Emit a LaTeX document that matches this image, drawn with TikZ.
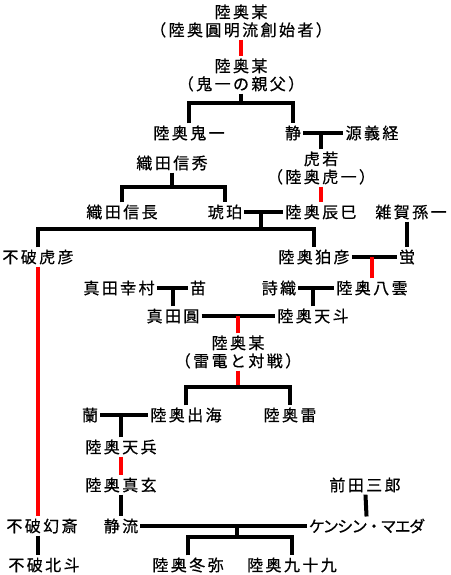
\documentclass[tikz,border=0pt]{standalone}
\usepackage{fontspec}
\newfontfamily\jp[LetterSpace=15,FakeBold=0.6]{Noto Sans CJK JP}
\newfontfamily\jpkana[LetterSpace=-10,FakeBold=0.6]{Noto Sans CJK JP}
\usetikzlibrary{calc}
\begin{document}
\begin{tikzpicture}[x=1pt,y=-1pt,
  person/.style={inner sep=2pt, align=center, font=\fontsize{16}{18}\jp},
  kin/.style={line width=4pt, black},
  blood/.style={line width=4pt, red}]
\useasboundingbox (0,0) rectangle (450,575);
\node[person] (founder) at (241,21) {陸奥某\\（陸奥圓明流創始者）};
\node[person] (oyaji) at (241,75) {陸奥某\\（鬼一の親父）};
\node[person] (kiichi) at (189,133) {陸奥鬼一};
\node[person] (shizuka) at (293,133) {静};
\node[person] (yoshitsune) at (372,133) {源義経};
\node[person] (nobuhide) at (172,163) {織田信秀};
\node[person] (torawaka) at (321,168) {虎若\\（陸奥虎一）};
\node[person] (nobunaga) at (122,212) {織田信長};
\node[person] (kohaku) at (225,212) {琥珀};
\node[person] (tatsumi) at (321,212) {陸奥辰巳};
\node[person] (magoichi) at (411,212) {雑賀孫一};
\node[person] (torahiko) at (38,257) {不破虎彦};
\node[person] (komahiko) at (314,257) {陸奥狛彦};
\node[person] (hotaru) at (407,257) {蛍};
\node[person] (yukimura) at (119,288) {真田幸村};
\node[person] (nae) at (198,288) {苗};
\node[person] (shiori) at (279,288) {詩織};
\node[person] (yakumo) at (372,288) {陸奥八雲};
\node[person] (madoka) at (173,316) {真田圓};
\node[person] (tento) at (313,316) {陸奥天斗};
\node[person] (raiden) at (238,352) {陸奥某\\（雷電と対戦）};
\node[person] (ran) at (90,415) {蘭};
\node[person] (izumi) at (186,415) {陸奥出海};
\node[person] (ikazuchi) at (290,415) {陸奥雷};
\node[person] (tenpei) at (121,447) {陸奥天兵};
\node[person] (shingen) at (121,485) {陸奥真玄};
\node[person] (saburo) at (365,485) {前田三郎};
\node[person] (genzai) at (42,526) {不破幻斎};
\node[person] (shizuru) at (121,526) {静流};
\node[person, font=\fontsize{16}{18}\jpkana] (kenshin) at (367,526) {ケンシン・マエダ};
\node[person] (hokuto) at (44,565) {不破北斗};
\node[person] (touya) at (188,565) {陸奥冬弥};
\node[person] (tsukumo) at (292,565) {陸奥九十九};
\coordinate (j1) at (241,103);
\coordinate (j2) at (172,187);
\coordinate (j3) at (261,229);
\coordinate (j4) at (238,387);
\coordinate (j5) at (237,537);
\draw[blood] (founder) -- (oyaji);
\draw[kin] (oyaji) -- (j1);
\draw[kin] (kiichi.north) |- (j1) -| (shizuka.north);
\draw[kin] (shizuka) -- (yoshitsune);
\draw[kin] (torawaka.north) -- (torawaka.north |- shizuka);
\draw[blood] (torawaka) -- (tatsumi);
\draw[kin] (nobuhide) -- (j2);
\draw[kin] (nobunaga.north) |- (j2) -| (kohaku.north);
\draw[kin] (kohaku) -- (tatsumi);
\draw[kin] (j3) -- (j3 |- kohaku);
\draw[kin] (torahiko.north) |- (j3) -| (komahiko.north);
\draw[kin] (magoichi.south -| hotaru) -- (hotaru);
\draw[kin] (komahiko) -- (hotaru);
\draw[blood] (yakumo.north) -- (yakumo.north |- hotaru);
\draw[kin] (shiori) -- (yakumo);
\draw[kin] (tento.north) -- (tento.north |- yakumo);
\draw[kin] (yukimura) -- (nae);
\draw[kin] (madoka.north) -- (madoka.north |- nae);
\draw[kin] (madoka) -- (tento);
\draw[blood] (raiden.north) -- (raiden.north |- tento);
\draw[blood] (raiden) -- (j4);
\draw[kin] (izumi.north) |- (j4) -| (ikazuchi.north);
\draw[kin] (ran) -- (izumi);
\draw[kin] (tenpei.north) -- (tenpei.north |- izumi);
\draw[blood] (tenpei) -- (shingen);
\draw[kin] (shingen) -- (shizuru);
\draw[kin] (saburo) -- (kenshin);
\draw[kin] (shizuru) -- (kenshin);
\draw[kin] (j5) -- (j5 |- shizuru);
\draw[kin] (touya.north) |- (j5) -| (tsukumo.north);
\draw[blood] (torahiko.south) -- (torahiko.south |- genzai.north);
\draw[kin] (genzai.south -| torahiko) -- (hokuto.north -| torahiko);
\end{tikzpicture}
\end{document}
